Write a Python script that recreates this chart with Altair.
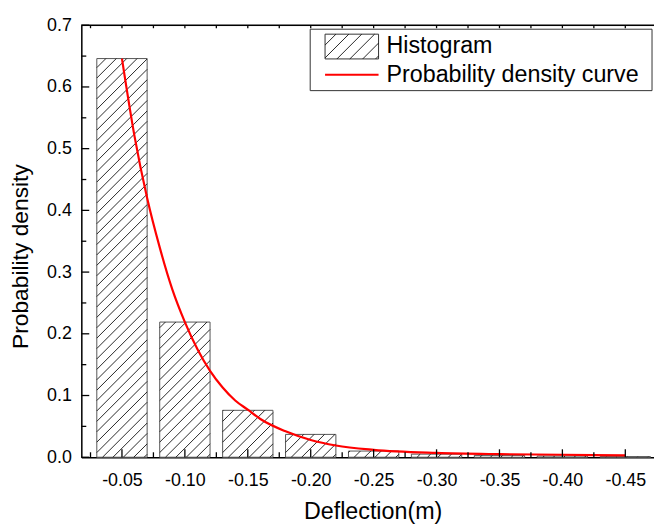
import altair as alt
import pandas as pd
import numpy as np

# ---------------- data ----------------
bin_centers = [-0.05, -0.10, -0.15, -0.20, -0.25, -0.30, -0.35, -0.40, -0.45]
bin_density = [0.646, 0.219, 0.076, 0.037, 0.010, 0.005, 0.003, 0.002, 0.001]

curve_x = [-0.05, -0.06, -0.07, -0.08, -0.09, -0.10, -0.11, -0.12, -0.13, -0.14,
           -0.15, -0.16, -0.18, -0.20, -0.22, -0.25, -0.30, -0.35, -0.40, -0.45]
curve_y = [0.646, 0.520, 0.420, 0.340, 0.272, 0.219, 0.175, 0.140, 0.113, 0.092,
           0.077, 0.062, 0.042, 0.028, 0.019, 0.012, 0.007, 0.005, 0.004, 0.003]

x_ticks = [-0.05, -0.10, -0.15, -0.20, -0.25, -0.30, -0.35, -0.40, -0.45]
x_minor = [-0.025, -0.075, -0.125, -0.175, -0.225, -0.275, -0.325, -0.375, -0.425]
y_ticks = [0.0, 0.1, 0.2, 0.3, 0.4, 0.5, 0.6, 0.7]
y_minor = [0.05, 0.15, 0.25, 0.35, 0.45, 0.55, 0.65]

# ---------------- layout ----------------
W, H = 578, 436
X0, X1 = -0.0177, -0.4728
Y0, Y1 = 0.0, 0.7
BAR_W = 0.04
FONT = "Liberation Sans"

xs = alt.Scale(domain=[X0, X1], nice=False, zero=False)
ys = alt.Scale(domain=[Y0, Y1], nice=False, zero=False)


def xpx(v):
    return (v - X0) / (X1 - X0) * W


def xval(p):
    return X0 + p / W * (X1 - X0)


def yval(p):
    return p / H * (Y1 - Y0)


def hatch(L, R, T, sp=10.5):
    segs = []
    for c in np.arange(-(R - L) + 3.0, T, sp):
        xs_ = max(L, L - c)
        xe_ = min(R, L + T - c)
        if xe_ - xs_ > 0.6:
            segs.append((xs_, xs_ - L + c, xe_, xe_ - L + c))
    return segs


bars = pd.DataFrame({"center": bin_centers, "density": bin_density})
bars["left"] = bars["center"] + BAR_W / 2
bars["right"] = bars["center"] - BAR_W / 2
bars["zero"] = 0.0

rows = []
for c, d in zip(bin_centers, bin_density):
    L = xpx(c + BAR_W / 2)
    R = xpx(c - BAR_W / 2)
    T = d / (Y1 - Y0) * H
    for (a, b, e, f) in hatch(L, R, T):
        rows.append({"x": xval(a), "y": yval(b), "x2": xval(e), "y2": yval(f)})
hatch_df = pd.DataFrame(rows)

curve = pd.DataFrame({"x": curve_x, "y": curve_y})

base_x = alt.X("x:Q", scale=xs, title="Deflection(m)",
               axis=alt.Axis(values=x_ticks, labelExpr="'-' + format(abs(datum.value), '.2f')",
                             ticks=False, grid=False, domainColor="black", domainWidth=1.5,
                             labelFont=FONT, labelFontSize=18, labelColor="black",
                             labelPadding=15, labelFlush=False,
                             titleFont=FONT, titleFontSize=23.5, titleFontWeight="normal",
                             titleColor="black", titlePadding=10, titleX=294))
base_y = alt.Y("y:Q", scale=ys, title="Probability density",
               axis=alt.Axis(values=y_ticks, format=".1f", ticks=False, grid=False,
                             domainColor="black", domainWidth=1.5,
                             labelFont=FONT, labelFontSize=18, labelColor="black",
                             labelPadding=10, labelFlush=False,
                             titleFont=FONT, titleFontSize=23, titleFontWeight="normal",
                             titleColor="black", titlePadding=14, titleY=233))

bar_layer = alt.Chart(bars).mark_rect(fill="white", stroke="#555555", strokeWidth=1).encode(
    x=alt.X("left:Q", scale=xs), x2="right:Q",
    y=alt.Y("zero:Q", scale=ys), y2="density:Q")

hatch_layer = alt.Chart(hatch_df).mark_rule(color="#111111", strokeWidth=0.9).encode(
    x=alt.X("x:Q", scale=xs), y=alt.Y("y:Q", scale=ys), x2="x2:Q", y2="y2:Q")

curve_layer = alt.Chart(curve).mark_line(color="#ff0000", strokeWidth=2.2, interpolate="monotone").encode(
    x=base_x, y=base_y)

# inward ticks
yt = alt.Chart(pd.DataFrame({"v": y_ticks})).mark_rule(color="black", strokeWidth=1.3).encode(
    y=alt.Y("v:Q", scale=ys), x=alt.value(0), x2=alt.value(8))
ym = alt.Chart(pd.DataFrame({"v": y_minor})).mark_rule(color="black", strokeWidth=1.3).encode(
    y=alt.Y("v:Q", scale=ys), x=alt.value(0), x2=alt.value(5))
xt = alt.Chart(pd.DataFrame({"v": x_ticks})).mark_rule(color="black", strokeWidth=1.3).encode(
    x=alt.X("v:Q", scale=xs), y=alt.value(H), y2=alt.value(H - 8))
xm = alt.Chart(pd.DataFrame({"v": x_minor})).mark_rule(color="black", strokeWidth=1.3).encode(
    x=alt.X("v:Q", scale=xs), y=alt.value(H), y2=alt.value(H - 5))
xt_top = alt.Chart(pd.DataFrame({"v": x_ticks + x_minor})).mark_rule(color="black", strokeWidth=1.3).encode(
    x=alt.X("v:Q", scale=xs), y=alt.value(0), y2=alt.value(3))
top_line = alt.Chart(pd.DataFrame({"a": [0]})).mark_rule(color="black", strokeWidth=1.5).encode(
    x=alt.value(0), x2=alt.value(W), y=alt.value(0))

# legend (annotation in pixel space)
LB = dict(x0=231, x1=576, y0=4, y1=66)
leg_box = alt.Chart(pd.DataFrame({"a": [0]})).mark_rect(fill="white", stroke="#333333", strokeWidth=1).encode(
    x=alt.value(LB["x0"]), x2=alt.value(LB["x1"]), y=alt.value(LB["y0"]), y2=alt.value(LB["y1"]))
SW = dict(x0=246, x1=300, y0=9, y1=34)
leg_sw = alt.Chart(pd.DataFrame({"a": [0]})).mark_rect(fill="white", stroke="#333333", strokeWidth=1).encode(
    x=alt.value(SW["x0"]), x2=alt.value(SW["x1"]), y=alt.value(SW["y0"]), y2=alt.value(SW["y1"]))
sw_rows = []
for (a, b, e, f) in hatch(0, SW["x1"] - SW["x0"], SW["y1"] - SW["y0"], sp=13):
    sw_rows.append({"px": SW["x0"] + a, "py": SW["y1"] - b, "px2": SW["x0"] + e, "py2": SW["y1"] - f})
leg_hatch = alt.Chart(pd.DataFrame(sw_rows)).mark_rule(color="#111111", strokeWidth=0.9).encode(
    x=alt.X("px:Q", scale=None), y=alt.Y("py:Q", scale=None),
    x2="px2:Q", y2="py2:Q")
leg_line = alt.Chart(pd.DataFrame({"a": [0]})).mark_rule(color="#ff0000", strokeWidth=2.2).encode(
    x=alt.value(246), x2=alt.value(300), y=alt.value(50))
leg_text = alt.Chart(pd.DataFrame({"t": ["Histogram", "Probability density curve"],
                                   "py": [21, 50]})).mark_text(
    align="left", baseline="middle", font=FONT, fontSize=23.5, color="black").encode(
    x=alt.value(308), y=alt.Y("py:Q", scale=None), text="t:N")

chart = alt.layer(
    bar_layer, hatch_layer, curve_layer, yt, ym, xt, xm, xt_top, top_line,
    leg_box, leg_sw, leg_hatch, leg_line, leg_text
).properties(
    width=W, height=H,
    padding={"left": 74, "top": 15, "right": 0, "bottom": 66},
    autosize=alt.AutoSizeParams(type="none"),
).configure_view(stroke=None).configure(background="white")

chart.save("out.html", embed_options={"renderer": "svg", "actions": False})
